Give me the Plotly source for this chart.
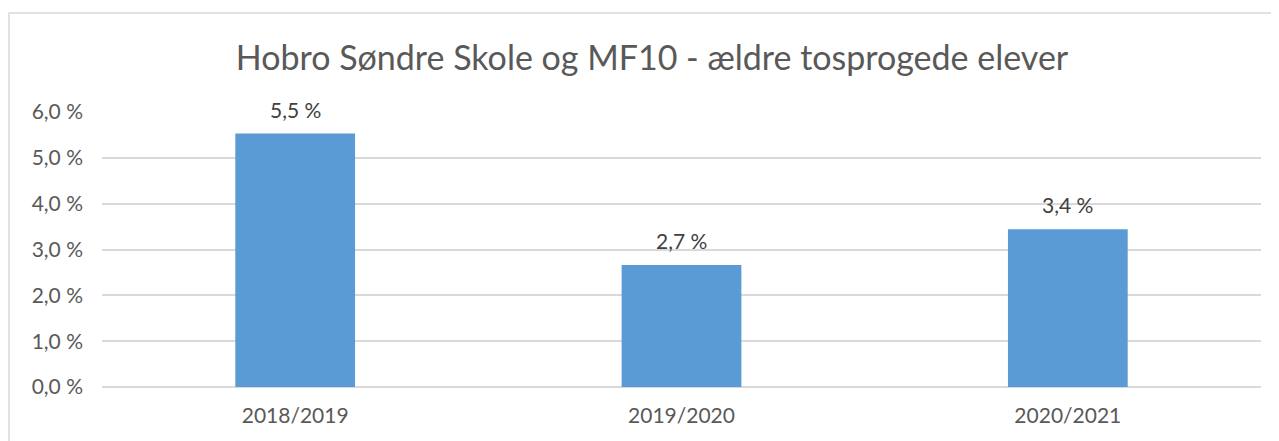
import plotly.graph_objects as go

categories = ["2018/2019", "2019/2020", "2020/2021"]
values = [5.53, 2.66, 3.44]
y_ticks = [0, 1, 2, 3, 4, 5, 6]
y_tick_labels = ["0,0 %", "1,0 %", "2,0 %", "3,0 %", "4,0 %", "5,0 %", "6,0 %"]

OFF = 8  # page body margin
W, H = 1279 - OFF, 441 - OFF
ML, MR, MT, MB = 102 - OFF, 18, 112 - OFF, 54
PW, PH = W - ML - MR, H - MT - MB
FONT = "Lato, 'Open Sans', sans-serif"
GREY = "#595959"

fig = go.Figure(go.Bar(
    x=categories, y=values,
    marker=dict(color="#5B9BD5", line=dict(width=0)),
    width=0.31,
))

annotations = [
    dict(x=c, y=v, xref="x", yref="y", text=f"{v:.1f} %".replace(".", ","),
         showarrow=False, yanchor="bottom", yshift=10,
         font=dict(family=FONT, size=21, color="#404040"))
    for c, v in zip(categories, values)
]

# outer chart border (left + top visible)
bx0 = (9 - OFF - ML) / PW
by1 = (H - MB - (13 - OFF)) / PH
fig.add_shape(type="rect", xref="paper", yref="paper",
              x0=bx0, x1=1.2, y0=-0.5, y1=by1,
              line=dict(color="#D9D9D9", width=1.5), fillcolor="rgba(0,0,0,0)", layer="below")

fig.update_layout(
    width=W, height=H,
    margin=dict(l=ML, r=MR, t=MT, b=MB),
    paper_bgcolor="white", plot_bgcolor="white",
    title=dict(text="Hobro Søndre Skole og MF10 - ældre tosprogede elever",
               x=(652 - OFF - ML) / PW, xref="paper", xanchor="center",
               y=1 - (58 - OFF) / H, yanchor="middle",
               font=dict(family=FONT, size=34, color=GREY)),
    font=dict(family=FONT, size=21, color=GREY),
    showlegend=False,
    annotations=annotations,
    xaxis=dict(showgrid=False, showline=False, ticks="", ticklabelstandoff=14,
               tickfont=dict(size=21, color=GREY)),
    yaxis=dict(range=[0, 6], tickvals=y_ticks, ticktext=y_tick_labels,
               showgrid=True, gridcolor="#D9D9D9", gridwidth=1.5,
               zeroline=True, zerolinecolor="#D9D9D9", zerolinewidth=1.5,
               showline=False, ticks="", ticklabelstandoff=18,
               tickfont=dict(size=21, color=GREY)),
)

fig.write_html("out.html")
